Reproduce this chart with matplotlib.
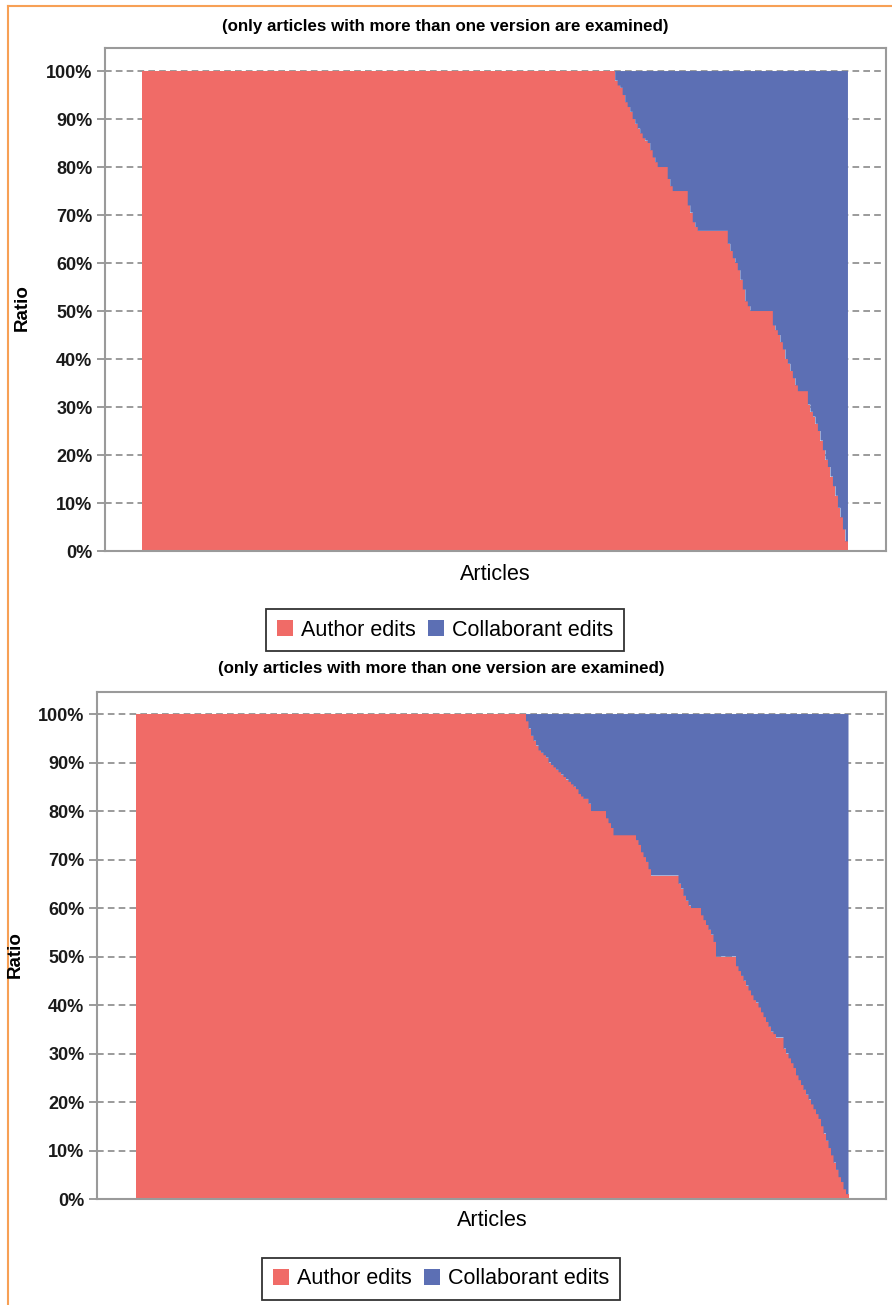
import numpy as np
import matplotlib
matplotlib.use("Agg")
import matplotlib.pyplot as plt
from matplotlib.patches import Patch
from matplotlib.lines import Line2D

# ---------------- data (run-length: author-edit ratio in %, number of articles) ----------------
top_ratios = [100, 98, 97, 96.5, 95, 93.5, 92.5, 91.5, 90, 89, 88, 87, 86, 85.5, 85, 83.5, 82, 81,
              80, 77.5, 76, 75, 72, 70.5, 68.5, 67.5, 66.7,
              64, 62.5, 61, 60, 58.5, 56.5, 54.5, 52, 51, 50,
              47, 46, 45, 43.5, 42, 40, 39, 37.5, 36, 34.5, 33.3,
              30.5, 29, 28, 26.5, 25, 23, 21, 19, 17.5, 15.5, 13.5, 11.5, 9, 7, 4.5, 2]
top_counts = [189, 1, 1, 1, 1, 1, 1, 1, 1, 1, 1, 1, 1, 1, 1, 1, 1, 1,
              4, 1, 1, 6, 1, 1, 1, 1, 12,
              1, 1, 1, 1, 1, 1, 1, 1, 1, 9,
              1, 1, 1, 1, 1, 1, 1, 1, 1, 1, 4,
              1, 1, 1, 1, 1, 1, 1, 1, 1, 1, 1, 1, 1, 1, 1, 1]

bottom_ratios = [100, 98.5, 97, 95.5, 94.5, 93.5, 92.5, 92, 91.5, 91, 90, 89.5, 89, 88.5, 88, 87.5,
                 87, 86.5, 86, 85.5, 85, 84.5, 83.5, 83, 82.5, 82.5, 81.5,
                 80, 78.5, 77.5, 76.5, 75, 74, 73, 71.5, 70.5, 69.5, 68, 66.7,
                 65, 64, 62.5, 61.5, 60.5, 60, 58.5, 57.5, 56.5, 55.5, 54.5, 53, 50,
                 48, 47, 46, 45, 44, 43, 42, 41, 40.5, 39.5, 38.5, 37.5, 36.5, 35.5, 34.5, 34, 33.3,
                 31, 30, 29, 28, 27, 25.5, 24.5, 23.5, 22.5, 21.5, 20.5, 19.5, 18.5, 17.5, 16.5,
                 15, 13.5, 12, 10.5, 9, 7.5, 6, 4.5, 3.5, 2, 1]
bottom_counts = [156, 1, 1, 1, 1, 1, 1, 1, 1, 1, 1, 1, 1, 1, 1, 1,
                 1, 1, 1, 1, 1, 1, 1, 1, 1, 1, 1,
                 6, 1, 1, 1, 9, 1, 1, 1, 1, 1, 1, 11,
                 1, 1, 1, 1, 1, 4, 1, 1, 1, 1, 1, 1, 8,
                 1, 1, 1, 1, 1, 1, 1, 1, 1, 1, 1, 1, 1, 1, 1, 1, 3,
                 1, 1, 1, 1, 1, 1, 1, 1, 1, 1, 1, 1, 1, 1, 1,
                 1, 1, 1, 1, 1, 1, 1, 1, 1, 1, 1]

series_names = ["Author edits", "Collaborant edits"]
title_text = "(only articles with more than one version are examined)"
ytick_vals = [0, 10, 20, 30, 40, 50, 60, 70, 80, 90, 100]
ytick_labels = [f"{v}%" for v in ytick_vals]

# ---------------- style ----------------
RED = "#F06B67"
BLUE = "#5C6FB4"
GRID = "#8a8a8a"
FONT = "Liberation Sans"
plt.rcParams["font.family"] = [FONT, "DejaVu Sans"]

W, H = 892, 1305
fig = plt.figure(figsize=(W / 100, H / 100), dpi=100)


def fx(px):
    return px / W


def fy(py):
    return 1 - py / H


def panel(rect, ratios, counts, ylim_top, xpad_left, xpad_right):
    ax = fig.add_axes(rect)
    author = np.repeat(np.array(ratios, dtype=float), counts) / 100.0
    n = len(author)
    edges = np.arange(n + 1)
    ax.stairs(author, edges, baseline=0, fill=True, color=RED, lw=0, zorder=2)
    ax.stairs(np.ones(n), edges, baseline=author, fill=True, color=BLUE, lw=0, zorder=2)
    ax.set_xlim(-xpad_left, n + xpad_right)
    ax.set_ylim(0, ylim_top)
    ax.set_yticks([v / 100 for v in ytick_vals])
    ax.set_yticklabels(ytick_labels, fontsize=13, fontweight="bold", color="#1a1a1a")
    ax.set_xticks([])
    ax.tick_params(axis="y", direction="out", length=6, width=1.2, color=GRID, pad=3)
    ax.yaxis.grid(True, linestyle=(0, (4, 2.5)), color=GRID, lw=1.2, zorder=0)
    ax.set_axisbelow(True)
    for s in ax.spines.values():
        s.set_color("#9a9a9a")
        s.set_linewidth(1.5)
    return ax


# top panel
ax1 = panel([fx(105), fy(551), fx(781), (551 - 48) / H], top_ratios, top_counts,
            1 + 23 / 479, 14.8, 15.2)
# bottom panel
ax2 = panel([fx(97), fy(1199), fx(789), (1199 - 692) / H], bottom_ratios, bottom_counts,
            1 + 22 / 484, 15.6, 15.0)

# titles
fig.text(fx(445), fy(27), title_text, ha="center", va="center", fontsize=12.2, fontweight="bold")
fig.text(fx(441), fy(668), title_text, ha="center", va="center", fontsize=12.2, fontweight="bold")

# axis labels
fig.text(fx(22), fy(308), "Ratio", rotation=90, ha="center", va="center", fontsize=13.5, fontweight="bold")
fig.text(fx(15), fy(955), "Ratio", rotation=90, ha="center", va="center", fontsize=13.5, fontweight="bold")
fig.text(fx(495), fy(574), "Articles", ha="center", va="center", fontsize=15.5)
fig.text(fx(492), fy(1220), "Articles", ha="center", va="center", fontsize=15.5)

# legends
handles = [Patch(facecolor=RED, edgecolor="none"), Patch(facecolor=BLUE, edgecolor="none")]
for cx, cy in [(445, 630), (441, 1279)]:
    leg = fig.legend(handles, series_names, loc="center", bbox_to_anchor=(fx(cx), fy(cy)),
                     ncol=2, fontsize=15.5, frameon=True, fancybox=False, edgecolor="black",
                     handlelength=0.75, handleheight=0.8, handletextpad=0.35, columnspacing=0.6,
                     borderpad=0.5, borderaxespad=0)
    leg.get_frame().set_linewidth(1.3)

# orange border (top and left)
fig.add_artist(Line2D([fx(8), 1], [fy(6), fy(6)], color="#F7A055", lw=1.5, transform=fig.transFigure))
fig.add_artist(Line2D([fx(8), fx(8)], [fy(6), 0], color="#F7A055", lw=1.5, transform=fig.transFigure))

fig.savefig("out.png", dpi=100)
